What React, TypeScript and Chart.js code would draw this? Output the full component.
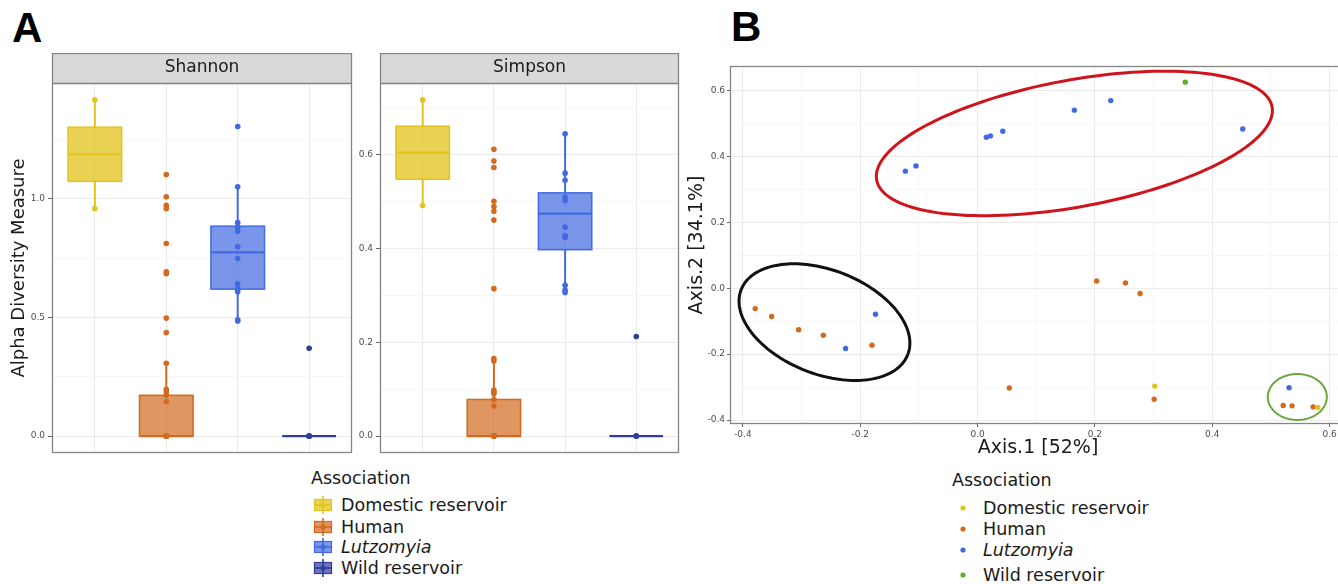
import React, { useEffect, useRef } from 'react';
import { Chart, registerables } from 'chart.js';

Chart.register(...registerables);

const FONT = '"DejaVu Sans", Verdana, sans-serif';

// ---------- categories & colours ----------
const groups = ['Domestic reservoir', 'Human', 'Lutzomyia', 'Wild reservoir'];
const boxColors = ['#E3C31C', '#D2691E', '#4169E1', '#2E3D9E'];
const boxFills = ['rgba(227,195,28,0.75)', 'rgba(210,105,30,0.7)', 'rgba(65,105,225,0.7)', 'rgba(46,61,158,0.7)'];
const pcoaColors = ['#E3C31C', '#D2691E', '#4169E1', '#5FAF2E'];
const facetNames = ['Shannon', 'Simpson'];

// ---------- Shannon ----------
const shannonDomestic = [1.416, 0.958];
const shannonHuman = [0, 0, 0, 0, 0, 0, 0.145, 0.172, 0.186, 0.197, 0.307, 0.436, 0.497, 0.684, 0.692, 0.811, 0.958, 0.972, 1.008, 1.102];
const shannonLutzomyia = [1.304, 1.05, 0.899, 0.88, 0.863, 0.797, 0.748, 0.641, 0.62, 0.608, 0.49, 0.485];
const shannonWild = [0, 0, 0, 0.37];
const shannonLow = [0.958, 0, 0.487, 0];
const shannonQ1 = [1.073, 0, 0.619, 0];
const shannonMedian = [1.187, 0, 0.774, 0];
const shannonQ3 = [1.301, 0.172, 0.884, 0];
const shannonHigh = [1.416, 0.307, 1.05, 0];
const shannonMajorTicks = [0, 0.5, 1.0];
const shannonMinorTicks = [0.25, 0.75, 1.25];
const shannonRange = [-0.071, 1.487];

// ---------- Simpson ----------
const simpsonDomestic = [0.716, 0.491];
const simpsonHuman = [0, 0, 0, 0, 0, 0.064, 0.078, 0.09, 0.094, 0.098, 0.16, 0.165, 0.314, 0.46, 0.479, 0.489, 0.5, 0.572, 0.586, 0.611];
const simpsonLutzomyia = [0.644, 0.56, 0.545, 0.509, 0.502, 0.445, 0.427, 0.423, 0.321, 0.311, 0.306];
const simpsonWild = [0, 0, 0, 0.212];
const simpsonLow = [0.491, 0, 0.306, 0];
const simpsonQ1 = [0.547, 0, 0.397, 0];
const simpsonMedian = [0.604, 0, 0.474, 0];
const simpsonQ3 = [0.66, 0.078, 0.518, 0];
const simpsonHigh = [0.716, 0.165, 0.644, 0];
const simpsonMajorTicks = [0, 0.2, 0.4, 0.6];
const simpsonMinorTicks = [0.1, 0.3, 0.5, 0.7];
const simpsonRange = [-0.036, 0.752];

// ---------- PCoA ----------
const pcoaDomesticX = [0.302, 0.58];
const pcoaDomesticY = [-0.297, -0.362];
const pcoaHumanX = [-0.379, -0.351, -0.305, -0.263, -0.18, 0.203, 0.252, 0.277, 0.054, 0.301, 0.521, 0.536, 0.572];
const pcoaHumanY = [-0.062, -0.086, -0.126, -0.143, -0.173, 0.022, 0.016, -0.016, -0.303, -0.337, -0.356, -0.357, -0.36];
const pcoaLutzomyiaX = [-0.123, -0.105, 0.015, 0.022, 0.043, 0.165, 0.227, 0.452, -0.174, -0.225, 0.531];
const pcoaLutzomyiaY = [0.355, 0.371, 0.458, 0.462, 0.476, 0.54, 0.569, 0.483, -0.079, -0.183, -0.302];
const pcoaWildX = [0.354];
const pcoaWildY = [0.625];
const pcoaMajorTicks = [-0.4, -0.2, 0, 0.2, 0.4, 0.6];
const pcoaMinorTicks = [-0.3, -0.1, 0.1, 0.3, 0.5];
const pcoaXRange = [-0.422, 0.628];
const pcoaYRange = [-0.412, 0.674];

// hand-drawn highlight ellipses (centre, axis vectors, in data units)
const ellipseColors = ['#D0141C', '#111111', '#6AA73E'];
const ellipseCenters = [[0.165, 0.439], [-0.261, -0.103], [0.545, -0.33]];
const ellipseAxisU = [[0.337, 0.111], [0.142, -0.0985], [0.0503, 0]];
const ellipseAxisV = [[-0.0198, 0.189], [0.0322, 0.147], [0, 0.0697]];
const ellipseWidths = [3, 3, 2];

const BOX_WIDTH = 0.75;

function isIn(list: number[], v: number) {
  return list.some((t) => Math.abs(t - v) < 1e-9);
}

function valueAxis(major: number[], minor: number[], range: number[], tickLength: number, padding: number, extra: any = {}) {
  return {
    type: 'linear',
    min: range[0],
    max: range[1],
    afterBuildTicks: (s: any) => {
      s.ticks = [...major, ...minor].sort((a, b) => a - b).map((v) => ({ value: v }));
    },
    ticks: {
      autoSkip: false,
      maxRotation: 0,
      minRotation: 0,
      color: '#4D4D4D',
      font: { family: FONT, size: 9 },
      padding,
      callback: (v: any) => (isIn(major, Number(v)) ? Number(v).toFixed(1) : ''),
    },
    grid: {
      color: (c: any) => (c.tick && isIn(major, c.tick.value) ? '#EBEBEB' : '#F3F3F3'),
      lineWidth: (c: any) => (c.tick && isIn(major, c.tick.value) ? 1 : 0.6),
      tickColor: (c: any) => (c.tick && isIn(major, c.tick.value) ? '#666666' : 'rgba(0,0,0,0)'),
      tickLength,
      drawTicks: true,
    },
    border: { display: false },
    ...extra,
  };
}

function makeBoxPlugin(low: number[], q1: number[], med: number[], q3: number[], high: number[]) {
  return {
    id: 'boxes',
    beforeDatasetsDraw(chart: any) {
      const { ctx, scales } = chart;
      const x = scales.x;
      const y = scales.y;
      ctx.save();
      for (let i = 0; i < groups.length; i++) {
        const cx = x.getPixelForValue(i + 1);
        const l = x.getPixelForValue(i + 1 - BOX_WIDTH / 2);
        const r = x.getPixelForValue(i + 1 + BOX_WIDTH / 2);
        const yLow = y.getPixelForValue(low[i]);
        const yQ1 = y.getPixelForValue(q1[i]);
        const yMed = y.getPixelForValue(med[i]);
        const yQ3 = y.getPixelForValue(q3[i]);
        const yHigh = y.getPixelForValue(high[i]);
        ctx.strokeStyle = boxColors[i];
        ctx.lineWidth = 2;
        ctx.beginPath();
        ctx.moveTo(cx, yHigh);
        ctx.lineTo(cx, yQ3);
        ctx.moveTo(cx, yQ1);
        ctx.lineTo(cx, yLow);
        ctx.stroke();
        ctx.fillStyle = boxFills[i];
        ctx.fillRect(l, yQ3, r - l, yQ1 - yQ3);
        ctx.lineWidth = 1.5;
        ctx.strokeRect(l, yQ3, r - l, yQ1 - yQ3);
        ctx.lineWidth = 2.2;
        ctx.beginPath();
        ctx.moveTo(l, yMed);
        ctx.lineTo(r, yMed);
        ctx.stroke();
      }
      ctx.restore();
    },
  };
}

function makeStripPlugin(label: string | null, stripHeight: number) {
  return {
    id: 'strip',
    afterDraw(chart: any) {
      const { ctx, chartArea: a } = chart;
      ctx.save();
      ctx.strokeStyle = '#858585';
      ctx.lineWidth = 1.3;
      if (label) {
        ctx.fillStyle = '#D9D9D9';
        ctx.fillRect(a.left, a.top - stripHeight, a.right - a.left, stripHeight);
        ctx.strokeRect(a.left + 0.5, a.top - stripHeight + 0.5, a.right - a.left - 1, stripHeight);
        ctx.fillStyle = '#1A1A1A';
        ctx.font = `17px ${FONT}`;
        ctx.textAlign = 'center';
        ctx.textBaseline = 'middle';
        ctx.fillText(label, (a.left + a.right) / 2, a.top - stripHeight / 2);
      }
      ctx.strokeRect(a.left + 0.5, a.top + 0.5, a.right - a.left - 1, a.bottom - a.top - 1);
      ctx.restore();
    },
  };
}

const ellipsePlugin = {
  id: 'ellipses',
  afterDatasetsDraw(chart: any) {
    const { ctx, scales } = chart;
    const x = scales.x;
    const y = scales.y;
    ctx.save();
    for (let k = 0; k < ellipseCenters.length; k++) {
      const [cx, cy] = ellipseCenters[k];
      const [ux, uy] = ellipseAxisU[k];
      const [vx, vy] = ellipseAxisV[k];
      ctx.strokeStyle = ellipseColors[k];
      ctx.lineWidth = ellipseWidths[k];
      ctx.beginPath();
      const n = 160;
      for (let j = 0; j <= n; j++) {
        const t = (j / n) * Math.PI * 2;
        const px = x.getPixelForValue(cx + ux * Math.cos(t) + vx * Math.sin(t));
        const py = y.getPixelForValue(cy + uy * Math.cos(t) + vy * Math.sin(t));
        if (j === 0) ctx.moveTo(px, py);
        else ctx.lineTo(px, py);
      }
      ctx.closePath();
      ctx.stroke();
    }
    ctx.restore();
  },
};

function boxDatasets(values: number[][]) {
  return values.map((vals, i) => ({
    label: groups[i],
    data: vals.map((v) => ({ x: i + 1, y: v })),
    backgroundColor: boxColors[i],
    borderColor: boxColors[i],
    pointRadius: 2.8,
    pointBorderWidth: 0,
  }));
}

function boxConfig(
  values: number[][],
  stats: number[][],
  major: number[],
  minor: number[],
  range: number[],
  yWidth: number,
  facet: string,
  yTitle: string | null
) {
  const yExtra: any = {
    afterFit: (s: any) => {
      s.width = yWidth;
    },
  };
  if (yTitle) {
    yExtra.title = {
      display: true,
      text: yTitle,
      color: '#1A1A1A',
      font: { family: FONT, size: 18 },
      padding: { top: 9, bottom: 0 },
    };
  }
  return {
    type: 'scatter',
    data: { datasets: boxDatasets(values) },
    options: {
      responsive: false,
      animation: false,
      layout: { padding: { top: 30, bottom: 10, left: 0, right: 1 } },
      plugins: { legend: { display: false }, tooltip: { enabled: false } },
      scales: {
        x: {
          type: 'linear',
          min: 0.4,
          max: 4.6,
          afterBuildTicks: (s: any) => {
            s.ticks = groups.map((_, i) => ({ value: i + 1 }));
          },
          afterFit: (s: any) => {
            s.height = 0;
          },
          ticks: { display: false, autoSkip: false },
          grid: { color: '#EBEBEB', lineWidth: 1, drawTicks: false },
          border: { display: false },
        },
        y: valueAxis(major, minor, range, 4, 3, yExtra),
      },
    },
    plugins: [makeBoxPlugin(stats[0], stats[1], stats[2], stats[3], stats[4]), makeStripPlugin(facet, 30)],
  };
}

function pcoaConfig() {
  const sets = [
    [pcoaDomesticX, pcoaDomesticY],
    [pcoaHumanX, pcoaHumanY],
    [pcoaLutzomyiaX, pcoaLutzomyiaY],
    [pcoaWildX, pcoaWildY],
  ];
  return {
    type: 'scatter',
    data: {
      datasets: sets.map(([xs, ys], i) => ({
        label: groups[i],
        data: xs.map((xv, j) => ({ x: xv, y: ys[j] })),
        backgroundColor: pcoaColors[i],
        borderColor: pcoaColors[i],
        pointRadius: 2.7,
        pointBorderWidth: 0,
      })),
    },
    options: {
      responsive: false,
      animation: false,
      layout: { padding: { top: 10, bottom: 0, left: 0, right: 10 } },
      plugins: { legend: { display: false }, tooltip: { enabled: false } },
      scales: {
        x: valueAxis(pcoaMajorTicks, pcoaMinorTicks, pcoaXRange, 3, 2, {
          position: 'bottom',
          afterFit: (s: any) => {
            s.height = 40;
          },
          title: {
            display: true,
            text: 'Axis.1 [52%]',
            color: '#1A1A1A',
            font: { family: FONT, size: 19 },
            padding: { top: 0, bottom: 5 },
          },
        }),
        y: valueAxis(pcoaMajorTicks, pcoaMinorTicks, pcoaYRange, 3, 2, {
          afterFit: (s: any) => {
            s.width = 50;
          },
          title: {
            display: true,
            text: 'Axis.2 [34.1%]',
            color: '#1A1A1A',
            font: { family: FONT, size: 19 },
            padding: { top: 6, bottom: 0 },
          },
        }),
      },
    },
    plugins: [ellipsePlugin, makeStripPlugin(null, 0)],
  };
}

function ChartBox({ make, left, top, width, height }: any) {
  const ref = useRef<HTMLCanvasElement>(null);
  useEffect(() => {
    const chart = new Chart(ref.current as HTMLCanvasElement, make() as any);
    return () => chart.destroy();
  }, []);
  return (
    <div style={{ position: 'absolute', left, top, width, height }}>
      <canvas ref={ref} width={width} height={height} style={{ width, height, display: 'block' }} />
    </div>
  );
}

function BoxKey({ i }: { i: number }) {
  return (
    <svg width={20} height={20} style={{ position: 'absolute', left: 0, top: 0 }}>
      <line x1={10} y1={1} x2={10} y2={19} stroke={boxColors[i]} strokeWidth={1.6} />
      <rect x={1.5} y={4.5} width={17} height={11} fill={boxFills[i]} stroke={boxColors[i]} strokeWidth={1.2} />
      <line x1={1.5} y1={10} x2={18.5} y2={10} stroke={boxColors[i]} strokeWidth={1.6} />
      <circle cx={10} cy={10} r={2.6} fill={boxColors[i]} />
    </svg>
  );
}

const legendAY = [505, 527, 547, 568];
const legendBY = [508, 529, 550, 575];

function LegendText({ i }: { i: number }) {
  return <span style={{ fontStyle: groups[i] === 'Lutzomyia' ? 'italic' : 'normal' }}>{groups[i]}</span>;
}

export default function App() {
  const shannonVals = [shannonDomestic, shannonHuman, shannonLutzomyia, shannonWild];
  const shannonStats = [shannonLow, shannonQ1, shannonMedian, shannonQ3, shannonHigh];
  const simpsonVals = [simpsonDomestic, simpsonHuman, simpsonLutzomyia, simpsonWild];
  const simpsonStats = [simpsonLow, simpsonQ1, simpsonMedian, simpsonQ3, simpsonHigh];
  const textStyle: React.CSSProperties = {
    position: 'absolute',
    fontFamily: FONT,
    fontSize: 17.5,
    lineHeight: '20px',
    color: '#1A1A1A',
    whiteSpace: 'nowrap',
  };
  const letterStyle: React.CSSProperties = {
    position: 'absolute',
    fontFamily: '"Liberation Sans", Arial, sans-serif',
    fontWeight: 700,
    fontSize: 42,
    lineHeight: '42px',
    color: '#000',
  };
  return (
    <div
      style={{
        position: 'fixed',
        left: 0,
        top: 0,
        width: 1338,
        height: 584,
        overflow: 'hidden',
        background: '#FFFFFF',
      }}
    >
      <div style={{ ...letterStyle, left: 12, top: 7 }}>A</div>
      <div style={{ ...letterStyle, left: 731, top: 6 }}>B</div>

      <ChartBox
        make={() => boxConfig(shannonVals, shannonStats, shannonMajorTicks, shannonMinorTicks, shannonRange, 52, facetNames[0], 'Alpha Diversity Measure')}
        left={0}
        top={53}
        width={356}
        height={410}
      />
      <ChartBox
        make={() => boxConfig(simpsonVals, simpsonStats, simpsonMajorTicks, simpsonMinorTicks, simpsonRange, 25, facetNames[1], null)}
        left={355}
        top={53}
        width={328}
        height={410}
      />
      <ChartBox make={pcoaConfig} left={680} top={56} width={676} height={408} />

      {/* Legend A */}
      <div style={{ ...textStyle, left: 311, top: 468 }}>Association</div>
      {groups.map((g, i) => (
        <div key={'a' + g} style={{ position: 'absolute', left: 313, top: legendAY[i] - 10, width: 220, height: 20 }}>
          <BoxKey i={i} />
          <div style={{ ...textStyle, left: 28, top: 0 }}>
            <LegendText i={i} />
          </div>
        </div>
      ))}

      {/* Legend B */}
      <div style={{ ...textStyle, left: 952, top: 470 }}>Association</div>
      {groups.map((g, i) => (
        <div key={'b' + g} style={{ position: 'absolute', left: 952, top: legendBY[i] - 10, width: 220, height: 20 }}>
          <svg width={20} height={20} style={{ position: 'absolute', left: 0, top: 0 }}>
            <circle cx={11} cy={10} r={2.6} fill={pcoaColors[i]} />
          </svg>
          <div style={{ ...textStyle, left: 31, top: 0 }}>
            <LegendText i={i} />
          </div>
        </div>
      ))}
    </div>
  );
}
